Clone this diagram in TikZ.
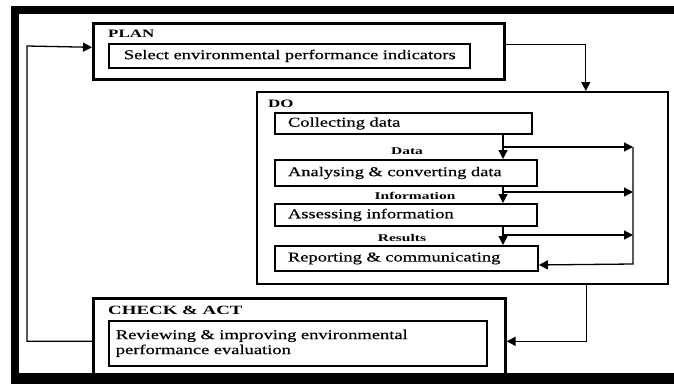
\documentclass[tikz,border=0pt]{standalone}
\usepackage{fontspec}
\setmainfont{Liberation Serif}[FakeStretch=1.37, FakeBold=0.4]
\newfontfamily\lblfont{Liberation Serif Bold}[FakeStretch=1.5]
\usetikzlibrary{arrows.meta}
\tikzset{
  every picture/.style={x=1pt,y=-1pt},
  frame/.style={fill=black},
  outerbox/.style={draw, line width=2.6pt, anchor=north west, inner sep=0pt},
  dobox/.style={draw, line width=1.6pt, anchor=north west, inner sep=0pt},
  stepbox/.style={draw, line width=1.9pt, anchor=north west, inner xsep=0pt, inner ysep=0pt,
    align=left, font=\fontsize{13.5}{15}\selectfont},
  head/.style={anchor=west, inner sep=0pt, font=\fontsize{11.3}{12}\lblfont},
  flowlbl/.style={inner sep=0pt, font=\fontsize{10.3}{12}\lblfont},
  conn/.style={line width=1.3pt, -{Triangle[length=9pt,width=9pt]}},
}
\begin{document}
\begin{tikzpicture}
\useasboundingbox (0,0) rectangle (674,383);
% frame
\fill[frame] (11,6) rectangle (680,14);
\fill[frame] (11,6) rectangle (19,390);
\fill[frame] (11,373) rectangle (680,390);

% PLAN
\node[outerbox, minimum width=411pt, minimum height=56pt] (plan) at (92,22) {};
\node[head] (planlbl) at (108,34) {PLAN};
\node[stepbox, text width=361pt, minimum height=24pt, line width=1.7pt] (sel) at (108,43)
  {\hspace*{15pt}Select environmental performance indicators};

% DO
\node[dobox, minimum width=411pt, minimum height=192pt] (do) at (256,91) {};
\node[head] (dolbl) at (268,104) {DO};
\node[stepbox, text width=257pt, minimum height=21pt] (coll) at (274,112) {\hspace*{13pt}Collecting data};
\node[stepbox, text width=262pt, minimum height=26pt] (ana) at (274,159) {\hspace*{13pt}Analysing \& converting data};
\node[stepbox, text width=262pt, minimum height=22pt] (ass) at (274,203) {\hspace*{13pt}Assessing information};
\node[stepbox, text width=263pt, minimum height=25pt] (rep) at (274,245) {\hspace*{13pt}Reporting \& communicating};

\node[flowlbl] (ldata) at (407,151) {Data};
\node[flowlbl] (linfo) at (415,196) {Information};
\node[flowlbl] (lres) at (402,238) {Results};

% CHECK & ACT
\node[outerbox, minimum width=412pt, minimum height=77pt] (check) at (92,297) {};
\node[head, font=\fontsize{12.6}{13}\lblfont] (checklbl) at (108,310) {CHECK \& ACT};
\node[stepbox, text width=378pt, minimum height=45pt, line width=1.7pt] (rev) at (108,320)
  {\hspace*{7pt}Reviewing \& improving environmental\\\hspace*{7pt}performance evaluation};

% inner flow
\coordinate (ax) at (503,0);
\coordinate (rx) at (633,0);
\coordinate (b1) at (503,147);
\coordinate (b2) at (503,192);
\coordinate (b3) at (503,235);
\draw[conn] (coll.south -| ax) -- (ana.north -| ax);
\draw[conn] (ana.south -| ax) -- (ass.north -| ax);
\draw[conn] (ass.south -| ax) -- (rep.north -| ax);
\draw[conn] (b1) -- (b1 -| rx);
\draw[conn] (b2) -- (b2 -| rx);
\draw[conn] (b3) -- (b3 -| rx);
\draw[conn] (b1 -| rx) -- (rx |- 0,264) -- ([yshift=-6.5pt]rep.east);

% outer loop
\draw[conn] ([yshift=7pt]plan.east) -| ([xshift=123.5pt]do.north);
\draw[conn] ([xshift=124.5pt]do.south) |- ([yshift=-4.5pt]check.east);
\draw[conn] ([yshift=-4.5pt]check.west) -| (27,46) -- ([yshift=4pt]plan.west);
\end{tikzpicture}
\end{document}
